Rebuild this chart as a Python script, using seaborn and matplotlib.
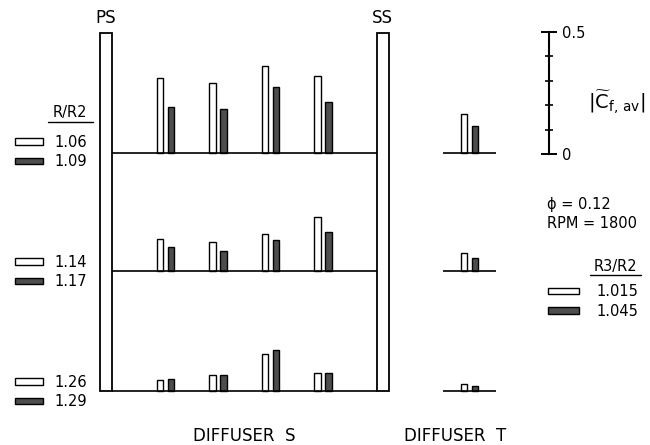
import numpy as np
import pandas as pd
import seaborn as sns
import matplotlib.pyplot as plt
from matplotlib.patches import Patch
from matplotlib.lines import Line2D

# |Cf,av|, diffuser S (4 stations between PS and SS walls)
s_stations = ["1", "2", "3", "4"]
s_open_top = [0.307, 0.287, 0.357, 0.316]   # R/R2 = 1.06
s_dark_top = [0.189, 0.180, 0.270, 0.209]   # R/R2 = 1.09
s_open_mid = [0.133, 0.120, 0.152, 0.225]   # R/R2 = 1.14
s_dark_mid = [0.100, 0.085, 0.130, 0.160]   # R/R2 = 1.17
s_open_bot = [0.045, 0.067, 0.152, 0.072]   # R/R2 = 1.26
s_dark_bot = [0.048, 0.067, 0.168, 0.072]   # R/R2 = 1.29

# diffuser T, one station per row (R3/R2 = 1.015 / 1.045)
t_open = [0.160, 0.074, 0.030]
t_dark = [0.110, 0.057, 0.020]

r_labels = [["1.06", "1.09"], ["1.14", "1.17"], ["1.26", "1.29"]]
r3_labels = ["1.015", "1.045"]

# layout (pixels of a 650x445 figure)
W, H = 650, 445
PX_X = 52.5      # px per station
PX_Y = 244       # px per unit of |Cf,av|
Y0 = 391         # pixel row of the lowest baseline
row_base = [0.975, 0.49, 0.0]
ylim = (-0.02, 1.47)
dark = "#4d4d4d"
pal = {"open": "white", "dark": dark}

sns.set_theme(style="white")
plt.rcParams["font.family"] = ["DejaVu Sans"]
plt.rcParams["text.color"] = "black"
plt.rcParams["mathtext.default"] = "regular"


def fx(px):
    return px / W


def fy(py):
    return 1 - py / H


def add_ax(fig, xc, xlim):
    left = xc + xlim[0] * PX_X
    right = xc + xlim[1] * PX_X
    top = Y0 - ylim[1] * PX_Y
    bottom = Y0 - ylim[0] * PX_Y
    ax = fig.add_axes([fx(left), fy(bottom), (right - left) / W, (bottom - top) / H])
    return ax


fig = plt.figure(figsize=(6.5, 4.45), dpi=100)
ax_s = add_ax(fig, 165.5, (-1.25, 4.25))
ax_t = add_ax(fig, 469.5, (-0.5, 0.5))

# diffuser S bars
for base, op, dk in zip(row_base, [s_open_top, s_open_mid, s_open_bot],
                        [s_dark_top, s_dark_mid, s_dark_bot]):
    df = pd.DataFrame({"station": s_stations * 2, "cf": op + dk,
                       "series": ["open"] * 4 + ["dark"] * 4})
    sns.barplot(data=df, x="station", y="cf", hue="series", hue_order=["open", "dark"],
                palette=pal, bottom=base, width=0.42, gap=0.45, saturation=1,
                edgecolor="black", linewidth=1.0, errorbar=None, legend=False, ax=ax_s)

# diffuser T bars
for base, op, dk in zip(row_base, t_open, t_dark):
    df = pd.DataFrame({"station": ["T", "T"], "cf": [op, dk], "series": ["open", "dark"]})
    sns.barplot(data=df, x="station", y="cf", hue="series", hue_order=["open", "dark"],
                palette=pal, bottom=base, width=0.42, gap=0.45, saturation=1,
                edgecolor="black", linewidth=1.0, errorbar=None, legend=False, ax=ax_t)

# walls and baselines
wall_top = 1.467
ax_s.bar([-1.135, 4.135], [wall_top, wall_top], width=0.23, facecolor="white",
         edgecolor="black", linewidth=1.3, clip_on=False, zorder=1)
ax_s.hlines(row_base, -1.02, 4.02, color="black", linewidth=1.2, clip_on=False)
ax_t.hlines(row_base, -0.5, 0.5, color="black", linewidth=1.2, clip_on=False)
for x, lab in [(-1.135, "PS"), (4.135, "SS")]:
    ax_s.annotate(lab, (x, wall_top), xytext=(0, 4), textcoords="offset points",
                  ha="center", va="bottom", fontsize=12, annotation_clip=False)

for ax in (ax_s, ax_t):
    ax.set_ylim(*ylim)
    ax.set_axis_off()
ax_s.set_xlim(-1.25, 4.25)
ax_t.set_xlim(-0.5, 0.5)

# scale bar
ax_c = fig.add_axes([fx(539), fy(154), 10 / W, 122 / H])
ax_c.set_ylim(0, 0.5)
ax_c.patch.set_alpha(0)
for side in ["left", "top", "bottom"]:
    ax_c.spines[side].set_visible(False)
ax_c.spines["right"].set_linewidth(1.5)
ax_c.spines["right"].set_color("black")
ax_c.yaxis.tick_right()
ax_c.set_xticks([])
ax_c.set_yticks([0, 0.5], ["0", "0.5"])
ax_c.set_yticks([0.1, 0.2, 0.3, 0.4], minor=True)
ax_c.tick_params(axis="y", which="major", direction="inout", length=11, width=1.4,
                 pad=4, labelsize=10.5, colors="black")
ax_c.tick_params(axis="y", which="minor", direction="inout", length=6, width=1.2,
                 colors="black")
fig.text(fx(617), fy(102), r"$|\widetilde{C}_{f,\,av}|$", ha="center", va="center", fontsize=14)

# operating point
fig.text(fx(547), fy(205), "ϕ = 0.12", ha="left", va="center", fontsize=10.5)
fig.text(fx(547), fy(223), "RPM = 1800", ha="left", va="center", fontsize=10.5)

# legends
handles = [Patch(facecolor="white", edgecolor="black", linewidth=1.0),
           Patch(facecolor=dark, edgecolor="black", linewidth=1.0)]
for labels, yc in zip(r_labels, [152, 272, 392]):
    fig.legend(handles, labels, loc="center left", bbox_to_anchor=(fx(15), fy(yc)),
               frameon=False, handlelength=1.9, handleheight=0.3, handletextpad=0.8,
               labelspacing=0.3, borderpad=0, borderaxespad=0, fontsize=10.5)
fig.legend(handles, r3_labels, loc="center left", bbox_to_anchor=(fx(548), fy(301.5)),
           frameon=False, handlelength=2.1, handleheight=0.3, handletextpad=1.2,
           labelspacing=0.3, borderpad=0, borderaxespad=0, fontsize=10.5)

fig.text(fx(70), fy(113), "R/R2", ha="center", va="center", fontsize=10.5)
fig.add_artist(Line2D([fx(48), fx(93)], [fy(122), fy(122)], color="black", linewidth=1.0))
fig.text(fx(615), fy(266), "R3/R2", ha="center", va="center", fontsize=10.5)
fig.add_artist(Line2D([fx(590), fx(641)], [fy(275), fy(275)], color="black", linewidth=1.0))

fig.text(fx(244), fy(436), "DIFFUSER  S", ha="center", va="center", fontsize=12)
fig.text(fx(455), fy(436), "DIFFUSER  T", ha="center", va="center", fontsize=12)

fig.savefig("out.png", dpi=100, facecolor="white")
